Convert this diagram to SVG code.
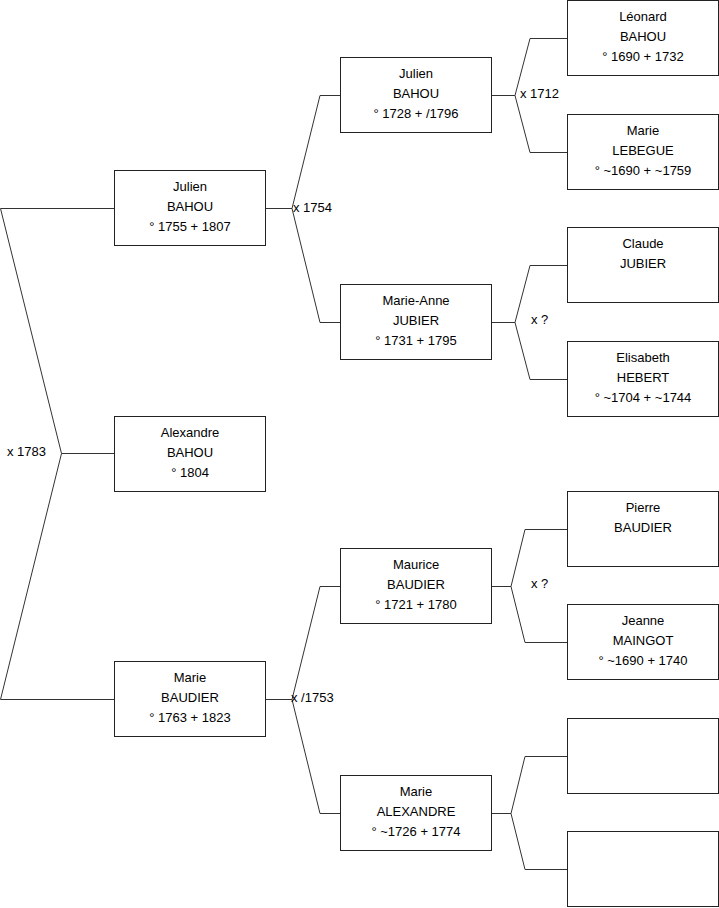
<svg xmlns="http://www.w3.org/2000/svg" width="719" height="908" viewBox="0 0 719 908">
<style>
rect.box{fill:#fff;stroke:#222;stroke-width:1}
path.c{fill:none;stroke:#333;stroke-width:1}
text{font-family:"Liberation Sans",Arial,sans-serif;font-size:13px;fill:#000}
text.n{text-anchor:middle}
</style>
<rect width="719" height="908" fill="#fff"/>
<g id="connectors">
<path class="c" d="M114,208.5 H0.5 L61.5,453.5 L0.5,699.5 H114 M61.5,453.5 H114"/>
<path class="c" d="M265.5,208.5 H292 L320,95.5 H340 M292,208.5 L320,322.5 H340"/>
<path class="c" d="M265.5,699.5 H292 L320,586.5 H340 M292,699.5 L320,813.5 H340"/>
<path class="c" d="M491.5,95.5 H515 L530,38.5 H567 M515,95.5 L530,152.5 H567"/>
<path class="c" d="M491.5,322.5 H515 L530,265.5 H567 M515,322.5 L530,379.5 H567"/>
<path class="c" d="M491.5,586.5 H511 L525,529.5 H567 M511,586.5 L525,642.5 H567"/>
<path class="c" d="M491.5,813.5 H511 L525,756.5 H567 M511,813.5 L525,869.5 H567"/>
<text x="7" y="455.5">x 1783</text>
<text x="293" y="211.5">x 1754</text>
<text x="291" y="702">x /1753</text>
<text x="520" y="97.5">x 1712</text>
<text x="531" y="323.5">x ?</text>
<text x="531" y="587.5">x ?</text>
</g>
<g id="julien-1755">
<rect class="box" x="114.5" y="170.5" width="151" height="75"/>
<text class="n" x="190" y="191">Julien</text><text class="n" x="190" y="211">BAHOU</text><text class="n" x="190" y="231">° 1755 + 1807</text>
</g>
<g id="alexandre-1804">
<rect class="box" x="114.5" y="416.5" width="151" height="75"/>
<text class="n" x="190" y="437">Alexandre</text><text class="n" x="190" y="457">BAHOU</text><text class="n" x="190" y="477">° 1804</text>
</g>
<g id="marie-baudier">
<rect class="box" x="114.5" y="661.5" width="151" height="75"/>
<text class="n" x="190" y="682">Marie</text><text class="n" x="190" y="702">BAUDIER</text><text class="n" x="190" y="722">° 1763 + 1823</text>
</g>
<g id="julien-1728">
<rect class="box" x="340.5" y="57.5" width="151" height="75"/>
<text class="n" x="416" y="78">Julien</text><text class="n" x="416" y="98">BAHOU</text><text class="n" x="416" y="118">° 1728 + /1796</text>
</g>
<g id="marie-anne-jubier">
<rect class="box" x="340.5" y="284.5" width="151" height="75"/>
<text class="n" x="416" y="305">Marie-Anne</text><text class="n" x="416" y="325">JUBIER</text><text class="n" x="416" y="345">° 1731 + 1795</text>
</g>
<g id="maurice-baudier">
<rect class="box" x="340.5" y="548.5" width="151" height="75"/>
<text class="n" x="416" y="569">Maurice</text><text class="n" x="416" y="589">BAUDIER</text><text class="n" x="416" y="609">° 1721 + 1780</text>
</g>
<g id="marie-alexandre">
<rect class="box" x="340.5" y="775.5" width="151" height="75"/>
<text class="n" x="416" y="796">Marie</text><text class="n" x="416" y="816">ALEXANDRE</text><text class="n" x="416" y="836">° ~1726 + 1774</text>
</g>
<g id="leonard-bahou">
<rect class="box" x="567.5" y="0.5" width="151" height="75"/>
<text class="n" x="643" y="21">Léonard</text><text class="n" x="643" y="41">BAHOU</text><text class="n" x="643" y="61">° 1690 + 1732</text>
</g>
<g id="marie-lebegue">
<rect class="box" x="567.5" y="114.5" width="151" height="75"/>
<text class="n" x="643" y="135">Marie</text><text class="n" x="643" y="155">LEBEGUE</text><text class="n" x="643" y="175">° ~1690 + ~1759</text>
</g>
<g id="claude-jubier">
<rect class="box" x="567.5" y="227.5" width="151" height="75"/>
<text class="n" x="643" y="248">Claude</text><text class="n" x="643" y="268">JUBIER</text>
</g>
<g id="elisabeth-hebert">
<rect class="box" x="567.5" y="341.5" width="151" height="75"/>
<text class="n" x="643" y="362">Elisabeth</text><text class="n" x="643" y="382">HEBERT</text><text class="n" x="643" y="402">° ~1704 + ~1744</text>
</g>
<g id="pierre-baudier">
<rect class="box" x="567.5" y="491.5" width="151" height="75"/>
<text class="n" x="643" y="512">Pierre</text><text class="n" x="643" y="532">BAUDIER</text>
</g>
<g id="jeanne-maingot">
<rect class="box" x="567.5" y="604.5" width="151" height="75"/>
<text class="n" x="643" y="625">Jeanne</text><text class="n" x="643" y="645">MAINGOT</text><text class="n" x="643" y="665">° ~1690 + 1740</text>
</g>
<g id="unknown-1">
<rect class="box" x="567.5" y="718.5" width="151" height="75"/>
</g>
<g id="unknown-2">
<rect class="box" x="567.5" y="831.5" width="151" height="75"/>
</g>
</svg>
